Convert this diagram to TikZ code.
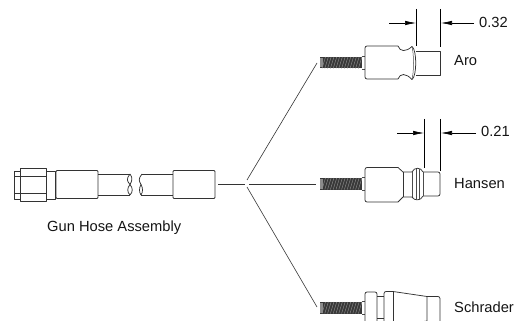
\documentclass[tikz,border=0pt]{standalone}
\usepackage{fontspec}
\setmainfont{Liberation Sans}
\usetikzlibrary{arrows.meta}
\tikzset{
  part/.style={draw=black!80,line width=0.75pt,line join=round},
  thin part/.style={draw=black!70,line width=0.5pt},
  conn/.style={draw=black!80,line width=0.6pt},
  dimline/.style={draw=black,line width=0.7pt},
  dimarrow/.style={draw=black,line width=0.6pt,-{Latex[length=11pt,width=4.5pt]}},
  label/.style={inner sep=0pt,font=\fontsize{14.7}{16}\selectfont,text=black!92,anchor=west},
}
\newcommand{\threadpart}[2]{% x, ytop
  \fill[black!78] (#1,#2) rectangle (#1+42,#2+11.5);
  \fill[black!45] (#1,#2+1) rectangle (#1+3,#2+10.5);
  \foreach \k in {0,2.8,...,38}
    \draw[black!45,line width=0.45pt] (#1+2+\k,#2+11.5) -- (#1+5.5+\k,#2);
  \draw[black!70,line width=0.6pt] (#1+42,#2-1) -- (#1+45,#2-1) (#1+42,#2+12.5) -- (#1+45,#2+12.5);
}
\begin{document}
\begin{tikzpicture}[x=1pt,y=-1pt]
\useasboundingbox (0,0) rectangle (528,321);
\clip (0,0) rectangle (528,321);
% hose assembly
\draw[part] (20,171) -- (14,171) -- (14,199) -- (20,199);
\draw[part] (14,176) -- (20,176) (14,193) -- (20,193);
\draw[part] (20,168.5) rectangle (46,201);
\draw[part] (20,176) -- (46,176) (20,193) -- (46,193);
\draw[part] (46,171) -- (55,171) -- (55,199) -- (46,199);
\draw[part,rounded corners=1pt] (56,170.5) -- (98,170.5) -- (98,198.5) -- (56,198.5) -- cycle;
\draw[part] (98,174) -- (130,174) (98,195) -- (130,195);
\draw[part] (130,174) .. controls (126,179) and (127,181) .. (130,184.5) .. controls (133,188) and (133,192) .. (130,195);
\draw[part] (130,174) .. controls (133,178) and (132,181) .. (130,184.5) .. controls (127,188) and (127,192) .. (130,195);
\draw[part] (142,174) .. controls (138,179) and (139,181) .. (141,184.5) .. controls (143,188) and (143,192) .. (141,195);
\draw[part] (141,184.5) .. controls (139,188) and (139,192) .. (141,195);
\draw[part] (142,174) -- (173,174) (141,195) -- (173,195);
\draw[part,rounded corners=1pt] (173,170.5) -- (215,170.5) -- (215,198.5) -- (173,198.5) -- cycle;
\node[label] (hose) at (47,228) {Gun Hose Assembly};
% connectors
\coordinate (hoseend) at (218,184);
\coordinate (hub) at (244.5,184);
\coordinate (hubr) at (249,184);
\coordinate (hubu) at (247,180);
\coordinate (hubd) at (247,187);
\coordinate (aroend) at (317,63);
\coordinate (hanend) at (316,184);
\coordinate (schend) at (317,307);
\draw[conn] (hoseend) -- (hub);
\draw[conn] (hubr) -- (hanend);
\draw[conn] (hubu) -- (aroend);
\draw[conn] (hubd) -- (schend);
% Aro
\threadpart{320}{57}
\draw[part,rounded corners=2pt] (398,46) -- (365,46) -- (365,79) -- (398,79);
\draw[part] (398,46) .. controls (400,52) and (406,52) .. (412,46.5) (398,79) .. controls (400,73) and (406,73) .. (412,79.5);
\draw[part] (412,46.5) .. controls (417,50) and (417,76) .. (412,79.5);
\draw[thin part] (412,46.5) .. controls (414,55) and (414,71) .. (412,79.5);
\draw[part] (415.5,51.5) -- (440,51.5) -- (440,75) -- (415.5,75);
\draw[dimline] (416,9) -- (416,46) (440,9) -- (440,47);
\coordinate (ad1) at (389,23); \coordinate (ad2) at (416,23);
\coordinate (ad3) at (474,23); \coordinate (ad4) at (441,23);
\draw[dimarrow] (ad1) -- (ad2);
\draw[dimarrow] (ad3) -- (ad4);
\node[label] (v1) at (479,22) {0.32};
\node[label] (aro) at (454,61) {Aro};
% Hansen
\threadpart{320}{178}
\draw[part,rounded corners=2pt] (398,167.5) -- (365,167.5) -- (365,202) -- (398,202);
\draw[part] (398,167.5) -- (403,172) -- (412,172) (398,202) -- (403,197) -- (412,197);
\draw[part] (403,172) -- (403,197);
\draw[part] (412,172) .. controls (414,167) and (421,167) .. (423,172) (412,197) .. controls (414,201) and (421,201) .. (423,196);
\draw[thin part] (412,172) -- (412,197) (416,169) -- (416,199.5) (419,169) -- (419,199.5);
\draw[part,rounded corners=2pt] (423,172) -- (440,172) -- (440,196) -- (423,196);
\draw[thin part] (423,172) -- (423,196);
\draw[dimline] (424,119) -- (424,168) (440,119) -- (440,171);
\coordinate (bd1) at (397,133); \coordinate (bd2) at (424,133);
\coordinate (bd3) at (476,133); \coordinate (bd4) at (441,133);
\draw[dimarrow] (bd1) -- (bd2);
\draw[dimarrow] (bd3) -- (bd4);
\node[label] (v2) at (481,131) {0.21};
\node[label] (han) at (454,184) {Hansen};
% Schrader
\threadpart{320}{302}
\draw[part,rounded corners=2pt] (365,325) -- (365,292) -- (377,292) -- (377,325);
\draw[part] (377,296.5) -- (384,296.5) (377,318) -- (384,318);
\draw[part,rounded corners=2pt] (384,325) -- (384,291.5) -- (393,291.5);
\draw[part] (393,291.5) -- (393,325);
\draw[part] (393,291.5) -- (427,296.5) -- (427,322);
\draw[part,rounded corners=2pt] (427,296.5) -- (440,296.5) -- (440,325);
\draw[part] (393,326) -- (427,321);
\node[label] (sch) at (454,307) {Schrader};
\end{tikzpicture}
\end{document}
